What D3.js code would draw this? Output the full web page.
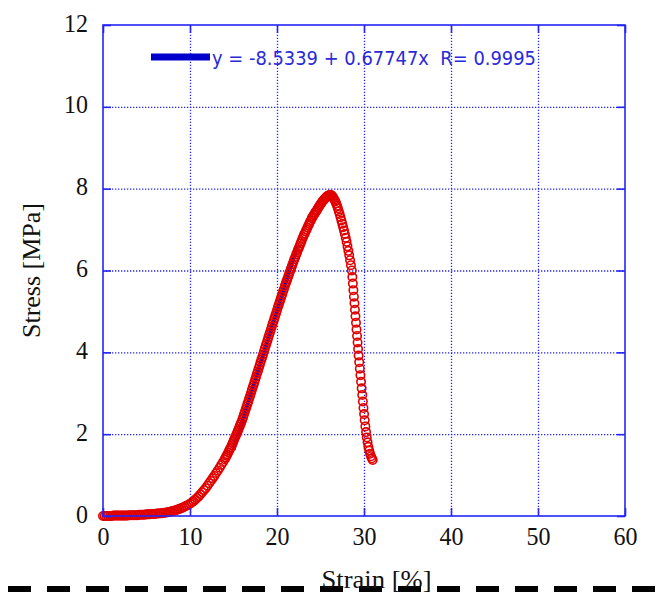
<!DOCTYPE html>
<html>
<head>
<meta charset="utf-8">
<script src="https://cdn.jsdelivr.net/npm/d3@7"></script>
<style>
body { margin: 0; background: #fff; }
</style>
</head>
<body>
<svg id="drawing_region"></svg>
<script>
// tensile test, strain [%] vs stress [MPa]
const strain = [
    0.0, 0.2, 0.4, 0.6, 0.8, 1.0, 1.2, 1.4, 1.6, 1.8, 2.0,
    2.2, 2.4, 2.6, 2.8, 3.0, 3.2, 3.4, 3.6, 3.8, 4.0,
    4.2, 4.4, 4.6, 4.8, 5.0, 5.2, 5.4, 5.6, 5.8, 6.0,
    6.2, 6.4, 6.6, 6.8, 7.0, 7.2, 7.4, 7.6, 7.8, 8.0,
    8.2, 8.4, 8.6, 8.8, 9.0, 9.2, 9.4, 9.6, 9.8, 10.0,
    10.2, 10.4, 10.6, 10.8, 11.0, 11.2, 11.4, 11.6, 11.8, 12.0,
    12.2, 12.4, 12.6, 12.8, 13.0, 13.2, 13.4, 13.6, 13.8, 14.0,
    14.1, 14.2, 14.3, 14.4, 14.5, 14.6, 14.7, 14.8, 14.9, 15.0,
    15.1, 15.2, 15.3, 15.4, 15.5, 15.6, 15.7, 15.8, 15.9, 16.0,
    16.1, 16.2, 16.3, 16.4, 16.5, 16.6, 16.7, 16.8, 16.9, 17.0,
    17.1, 17.2, 17.3, 17.4, 17.5, 17.6, 17.7, 17.8, 17.9, 18.0,
    18.1, 18.2, 18.3, 18.4, 18.5, 18.6, 18.7, 18.8, 18.9, 19.0,
    19.1, 19.2, 19.3, 19.4, 19.5, 19.6, 19.7, 19.8, 19.9, 20.0,
    20.1, 20.2, 20.3, 20.4, 20.5, 20.6, 20.7, 20.8, 20.9, 21.0,
    21.1, 21.2, 21.3, 21.4, 21.5, 21.6, 21.7, 21.8, 21.9, 22.0,
    22.1, 22.2, 22.3, 22.4, 22.5, 22.6, 22.7, 22.8, 22.9, 23.0,
    23.1, 23.2, 23.3, 23.4, 23.5, 23.6, 23.7, 23.8, 23.9, 24.0,
    24.1, 24.2, 24.3, 24.4, 24.5, 24.6, 24.7, 24.8, 24.9, 25.0,
    25.1, 25.2, 25.3, 25.4, 25.5, 25.6, 25.7, 25.8, 25.9, 26.0,
    26.1, 26.2, 26.3, 26.4, 26.5, 26.6, 26.7, 26.8, 26.9, 27.0,
    27.1, 27.2, 27.3, 27.4, 27.5, 27.6, 27.7, 27.8, 27.9, 28.0,
    28.1, 28.2, 28.3, 28.4, 28.5, 28.6,
    28.66, 28.72, 28.78, 28.84, 28.9, 28.96, 29.02, 29.08, 29.14, 29.2,
    29.26, 29.32, 29.38, 29.45, 29.52, 29.59, 29.66, 29.73, 29.8, 29.87,
    29.94, 30.01, 30.08, 30.16, 30.24, 30.32, 30.41, 30.5, 30.6, 30.7,
    30.8, 30.9, 31.0
];
const stress = [
    0, 0, 0, 0, 0, 0, 0.01, 0.01, 0.01, 0.01, 0.01,
    0.01, 0.01, 0.01, 0.01, 0.02, 0.02, 0.02, 0.02, 0.02, 0.02,
    0.03, 0.03, 0.03, 0.03, 0.04, 0.04, 0.04, 0.05, 0.05, 0.05,
    0.06, 0.06, 0.07, 0.07, 0.08, 0.08, 0.09, 0.10, 0.11, 0.12,
    0.13, 0.145, 0.16, 0.175, 0.19, 0.21, 0.23, 0.25, 0.275, 0.30,
    0.33, 0.36, 0.40, 0.44, 0.48, 0.53, 0.58, 0.63, 0.68, 0.74,
    0.80, 0.86, 0.92, 0.98, 1.05, 1.11, 1.18, 1.25, 1.32, 1.39,
    1.43, 1.47, 1.51, 1.55, 1.60, 1.64, 1.68, 1.73, 1.78, 1.83,
    1.88, 1.93, 1.98, 2.03, 2.08, 2.13, 2.19, 2.24, 2.29, 2.35,
    2.41, 2.48, 2.54, 2.61, 2.67, 2.74, 2.80, 2.87, 2.93, 3.00,
    3.07, 3.14, 3.20, 3.27, 3.34, 3.41, 3.48, 3.54, 3.61, 3.68,
    3.75, 3.82, 3.88, 3.95, 4.02, 4.09, 4.16, 4.22, 4.29, 4.36,
    4.43, 4.49, 4.56, 4.63, 4.70, 4.76, 4.83, 4.90, 4.96, 5.03,
    5.10, 5.16, 5.23, 5.29, 5.36, 5.42, 5.49, 5.55, 5.62, 5.68,
    5.74, 5.80, 5.86, 5.92, 5.98, 6.04, 6.10, 6.16, 6.22, 6.28,
    6.33, 6.39, 6.44, 6.50, 6.55, 6.60, 6.66, 6.71, 6.77, 6.82,
    6.87, 6.91, 6.96, 7.00, 7.05, 7.10, 7.14, 7.19, 7.23, 7.28,
    7.31, 7.35, 7.38, 7.42, 7.45, 7.48, 7.52, 7.55, 7.59, 7.62,
    7.65, 7.68, 7.71, 7.73, 7.76, 7.78, 7.80, 7.82, 7.83, 7.84,
    7.85, 7.84, 7.83, 7.80, 7.77, 7.73, 7.69, 7.64, 7.58, 7.52,
    7.45, 7.38, 7.30, 7.22, 7.14, 7.06, 6.98, 6.89, 6.80, 6.70,
    6.59, 6.48, 6.37, 6.25, 6.13, 6.00,
    5.84, 5.68, 5.52, 5.36, 5.20, 5.04, 4.88, 4.72, 4.56, 4.40,
    4.24, 4.08, 3.92, 3.76, 3.60, 3.44, 3.28, 3.12, 2.96, 2.80,
    2.64, 2.49, 2.34, 2.19, 2.05, 1.92, 1.80, 1.69, 1.60, 1.52,
    1.46, 1.41, 1.37
];

// linear fit over the steep part
const fitCoef = [-8.5339, 0.67747];
const fitStrain = [15.0, 22.3];
const fitLabel = "y = -8.5339 + 0.67747x  R= 0.9995";

const xTicks = [0, 10, 20, 30, 40, 50, 60];
const yTicks = [0, 2, 4, 6, 8, 10, 12];
const xGrid = [10, 20, 30, 40, 50];
const yGrid = [2, 4, 6, 8, 10];

class StressStrainPlot {

    constructor( config, data ) {
        this.config = config;
        this.data = data;
        this.init();
    }

    init() {
        let self = this;
        const c = self.config;

        self.svg = d3.select( c.parent )
            .attr('width', c.width)
            .attr('height', c.height);

        self.inner_width = c.width - c.margin.left - c.margin.right;
        self.inner_height = c.height - c.margin.top - c.margin.bottom;

        // dashed rule across the bottom (sits behind the x title)
        self.svg.append('line')
            .attr('x1', 0).attr('x2', c.width)
            .attr('y1', 589).attr('y2', 589)
            .attr('stroke', '#000')
            .attr('stroke-width', 6)
            .attr('stroke-dasharray', '23,16')
            .attr('stroke-dashoffset', -8);

        self.chart = self.svg.append('g')
            .attr('transform', `translate(${c.margin.left}, ${c.margin.top})`);

        self.xscale = d3.scaleLinear().domain([0, 60]).range([0, self.inner_width]);
        self.yscale = d3.scaleLinear().domain([0, 12]).range([self.inner_height, 0]);
    }

    render() {
        let self = this;
        const c = self.config;
        const W = self.inner_width, H = self.inner_height;
        const blue = '#2525f5';

        // dotted grid
        self.chart.append('g')
            .attr('transform', `translate(0, ${H})`)
            .call( d3.axisBottom(self.xscale).tickValues(xGrid).tickSize(-H).tickFormat('') )
            .call( g => g.select('.domain').remove() )
            .selectAll('line')
            .attr('stroke', blue).attr('stroke-width', 1.3).attr('stroke-dasharray', '1.3,1.7');

        self.chart.append('g')
            .call( d3.axisLeft(self.yscale).tickValues(yGrid).tickSize(-W).tickFormat('') )
            .call( g => g.select('.domain').remove() )
            .selectAll('line')
            .attr('stroke', blue).attr('stroke-width', 1.3).attr('stroke-dasharray', '1.3,1.7');

        // fit line, under the markers
        self.chart.append('line')
            .attr('x1', self.xscale(fitStrain[0]))
            .attr('y1', self.yscale(fitCoef[0] + fitCoef[1] * fitStrain[0]))
            .attr('x2', self.xscale(fitStrain[1]))
            .attr('y2', self.yscale(fitCoef[0] + fitCoef[1] * fitStrain[1]))
            .attr('stroke', '#0000d0')
            .attr('stroke-width', 4);

        // measured points
        self.chart.selectAll('circle')
            .data(self.data)
            .enter()
            .append('circle')
            .attr('cx', d => self.xscale(d.x))
            .attr('cy', d => self.yscale(d.y))
            .attr('r', 4.2)
            .attr('fill', 'none')
            .attr('stroke', '#e00000')
            .attr('stroke-width', 1.6);

        // ticks, inward on all four sides
        const tickStyle = g => {
            g.select('.domain').remove();
            g.selectAll('line').attr('stroke', blue).attr('stroke-width', 1.6);
        };

        const xb = self.chart.append('g')
            .attr('transform', `translate(0, ${H})`)
            .call( d3.axisBottom(self.xscale).tickValues(xTicks).tickSizeInner(-8).tickSizeOuter(0) )
            .call( tickStyle );
        xb.selectAll('text')
            .attr('y', 29).attr('dy', 0)
            .attr('font-family', '"Liberation Serif", "Times New Roman", serif')
            .attr('font-size', 26)
            .attr('fill', '#111')
            .attr('textLength', d => String(d).length * 12)
            .attr('lengthAdjust', 'spacingAndGlyphs');

        const yl = self.chart.append('g')
            .call( d3.axisLeft(self.yscale).tickValues(yTicks).tickSizeInner(-8).tickSizeOuter(0) )
            .call( tickStyle );
        yl.selectAll('text')
            .attr('x', -15).attr('dy', 0).attr('y', 6)
            .attr('font-family', '"Liberation Serif", "Times New Roman", serif')
            .attr('font-size', 26)
            .attr('fill', '#111')
            .attr('textLength', d => String(d).length * 12)
            .attr('lengthAdjust', 'spacingAndGlyphs');

        self.chart.append('g')
            .call( d3.axisTop(self.xscale).tickValues(xTicks).tickSizeInner(-8).tickSizeOuter(0).tickFormat('') )
            .call( tickStyle );

        self.chart.append('g')
            .attr('transform', `translate(${W}, 0)`)
            .call( d3.axisRight(self.yscale).tickValues(yTicks).tickSizeInner(-8).tickSizeOuter(0).tickFormat('') )
            .call( tickStyle );

        // frame
        self.chart.append('rect')
            .attr('width', W).attr('height', H)
            .attr('fill', 'none')
            .attr('stroke', blue)
            .attr('stroke-width', 1.6);

        // legend
        self.chart.append('line')
            .attr('x1', 151 - c.margin.left).attr('x2', 210 - c.margin.left)
            .attr('y1', 57 - c.margin.top).attr('y2', 57 - c.margin.top)
            .attr('stroke', '#0000cc')
            .attr('stroke-width', 7);

        self.chart.append('text')
            .attr('x', 212 - c.margin.left)
            .attr('y', 64.5 - c.margin.top)
            .attr('font-family', '"DejaVu Sans", Verdana, sans-serif')
            .attr('font-size', 19)
            .attr('fill', '#2a2ad8')
            .style('white-space', 'pre')
            .attr('textLength', 324)
            .attr('lengthAdjust', 'spacingAndGlyphs')
            .text(fitLabel);

        // axis titles
        self.svg.append('text')
            .attr('x', 376.5)
            .attr('y', 588)
            .attr('text-anchor', 'middle')
            .attr('font-family', '"Liberation Serif", "Times New Roman", serif')
            .attr('font-size', 26)
            .attr('fill', '#111')
            .attr('textLength', 110)
            .attr('lengthAdjust', 'spacingAndGlyphs')
            .text('Strain [%]');

        self.svg.append('text')
            .attr('transform', `translate(40, ${c.margin.top + H / 2}) rotate(-90)`)
            .attr('text-anchor', 'middle')
            .attr('font-family', '"Liberation Serif", "Times New Roman", serif')
            .attr('font-size', 26)
            .attr('fill', '#111')
            .text('Stress [MPa]');
    }
}

const data = strain.map( (s, i) => ({ x: s, y: stress[i] }) );

const config = {
    parent: '#drawing_region',
    width: 660,
    height: 596,
    margin: { top: 25, right: 35, bottom: 80, left: 103 }
};

const plot = new StressStrainPlot( config, data );
plot.render();
</script>
</body>
</html>
